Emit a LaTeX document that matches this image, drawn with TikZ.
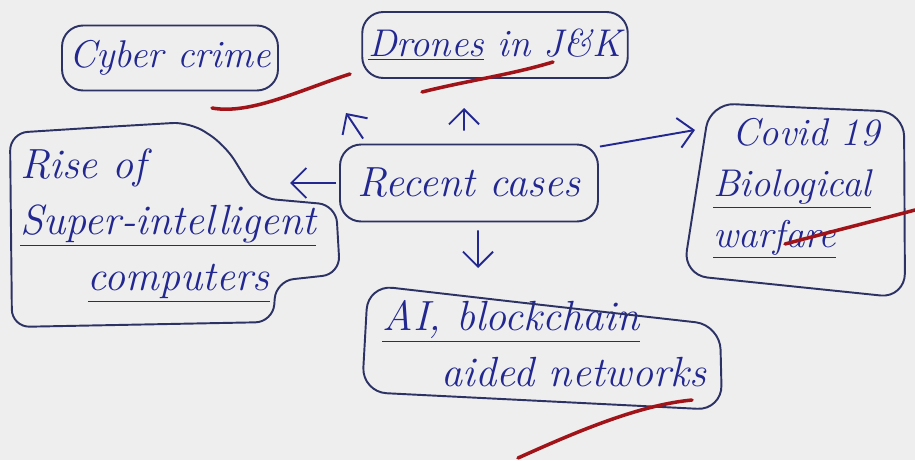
\documentclass[tikz,border=0pt]{standalone}
\usepackage{tikz}
\usetikzlibrary{arrows.meta}
\usetikzlibrary{positioning}

\definecolor{paper}{RGB}{238,238,238}
\definecolor{ink}{RGB}{35,40,145}
\definecolor{pen}{RGB}{45,50,100}
\definecolor{redpen}{RGB}{160,20,25}

\begin{document}
\begin{tikzpicture}[
    x=0.02cm, y=-0.02cm,
    topic/.style={draw=pen, line width=1.1pt, rounded corners=12pt, text=ink,
        font=\fontsize{22}{30}\selectfont\itshape},
    txt/.style={text=ink, font=\fontsize{24}{32}\selectfont\itshape, inner sep=0pt, align=left},
    outline/.style={draw=pen, line width=1.1pt, rounded corners=10pt},
    redstroke/.style={draw=redpen, line width=2pt, line cap=round},
    arr/.style={draw=ink, line width=1.1pt, -{Straight Barb[length=3mm, width=6mm]}}
]

% --- Paper ---
\fill[paper] (0,0) rectangle (915,460);
\useasboundingbox (0,0) rectangle (915,460);

% --- Centre ---
\node[topic, font=\fontsize{24}{32}\selectfont\itshape, minimum width=5.16cm, minimum height=1.54cm]
    (recent) at (469,183) {Recent cases};

% --- Branches ---
\node[topic, minimum width=4.32cm, minimum height=1.3cm] (cyber) at (170,58) {Cyber crime};
\node[topic, minimum width=5.2cm, minimum height=1.32cm] (drones) at (495,45) {\underline{Drones} in J\&K};

\node[txt, anchor=north west] (rise) at (20,148)
    {Rise of\\ \underline{Super-intelligent}\\ \hspace{1.6em}\underline{computers}};
\draw[outline] (100,127.3) -- (190,122) -- (225,145) -- (258,198) -- (336,205) -- (340,274)
    -- (276,281) -- (273,322) -- (12,327) -- (10,133) -- cycle;

\node[txt, font=\fontsize{22}{29}\selectfont\itshape, anchor=north west] (covid) at (713,118)
    {\hspace{0.5em}Covid 19\\ \underline{Biological}\\ \underline{warfare}};
\draw[outline, rounded corners=14pt] (800,107.5) -- (904,112) -- (905,298) -- (683,275)
    -- (710,103) -- cycle;

\node[txt, anchor=north west] (ai) at (382,300)
    {\underline{AI, blockchain}\\ \hspace{1.4em}aided networks};
\draw[outline, rounded corners=14pt] (530,303.6) -- (720,325) -- (722,410) -- (362,392)
    -- (368,285) -- cycle;

% --- Arrow tips ---
\coordinate (tipcyber) at (346,113);
\coordinate (tipdrones) at (464,108);
\coordinate (tiprise) at (290,183);
\coordinate (tipai) at (478,268);
\coordinate (tipcovid) at (695,130);

% --- Arrows from the centre ---
\draw[arr] ([xshift=0.48cm, yshift=0.1cm]recent.north west) -- (tipcyber);
\draw[arr] ([xshift=-0.1cm, yshift=0.26cm]recent.north) -- (tipdrones);
\draw[arr] ([xshift=-0.06cm]recent.west) -- (tiprise);
\draw[arr] ([xshift=0.18cm, yshift=-0.16cm]recent.south) -- (tipai);
\draw[arr] ([xshift=0.02cm, yshift=-0.06cm]recent.north east) -- (tipcovid);

% --- Red pen marks ---
\draw[redstroke] (212,108) .. controls (250,115) and (300,90) .. (350,74);
\draw[redstroke] (422,92) .. controls (470,80) and (510,75) .. (553,62);
\draw[redstroke] (785,244) .. controls (830,232) and (870,222) .. (915,210);
\draw[redstroke] (518,458) .. controls (580,430) and (640,405) .. (692,400);

\end{tikzpicture}
\end{document}
